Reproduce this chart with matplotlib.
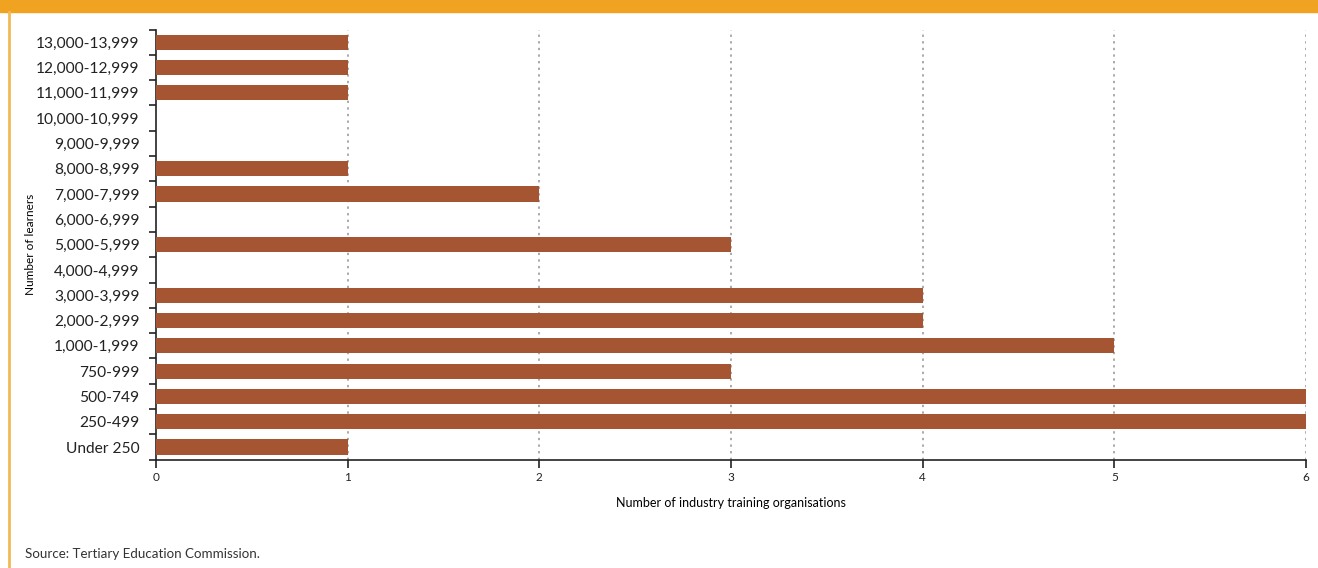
import matplotlib.pyplot as plt
from matplotlib.ticker import FixedLocator

# Learner bands and number of ITOs in each band
bands = ["Under 250", "250-499", "500-749", "750-999", "1,000-1,999", "2,000-2,999",
         "3,000-3,999", "4,000-4,999", "5,000-5,999", "6,000-6,999", "7,000-7,999",
         "8,000-8,999", "9,000-9,999", "10,000-10,999", "11,000-11,999",
         "12,000-12,999", "13,000-13,999"]
itos = [1, 6, 6, 3, 5, 4, 4, 0, 3, 0, 2, 1, 0, 0, 1, 1, 1]
x_ticks = [0, 1, 2, 3, 4, 5, 6]

plt.rcParams["font.family"] = ["Lato", "DejaVu Sans"]

fig = plt.figure(figsize=(13.18, 5.68), dpi=100)
ax = fig.add_axes([0.1184, 0.1907, 0.8725, 0.7573])

ypos = list(range(len(bands)))
ax.barh(ypos, itos, height=0.6, color="#A65533", zorder=3)

ax.set_xlim(0, 6)
ax.set_ylim(-0.5, len(bands) - 0.5)
ax.set_xticks(x_ticks)
ax.set_xticklabels([str(t) for t in x_ticks], fontsize=8.5, color="#222222")
ax.set_yticks(ypos)
ax.set_yticklabels(bands, fontsize=11.2, color="#222222")
ax.yaxis.set_minor_locator(FixedLocator([i - 0.5 for i in range(len(bands) + 1)]))
ax.tick_params(axis="y", which="major", length=0, pad=12)
ax.tick_params(axis="y", which="minor", length=5, width=1.2, color="#222222")
ax.tick_params(axis="x", length=6, width=1.2, color="#222222", pad=3)

for s in ["top", "right"]:
    ax.spines[s].set_visible(False)
ax.spines["left"].set_linewidth(1.2)
ax.spines["bottom"].set_linewidth(1.2)
ax.spines["left"].set_color("#222222")
ax.spines["bottom"].set_color("#222222")

for t in x_ticks[1:]:
    ax.axvline(t, color="#aaaaaa", linestyle=(0, (1.2, 2.2)), linewidth=1.4, zorder=1)

ax.set_xlabel("Number of industry training organisations", fontsize=9, labelpad=10)
fig.text(0.023, 0.569, "Number of learners", rotation=90, fontsize=8.5,
         ha="center", va="center")

fig.text(0.019, 0.017, "Source: Tertiary Education Commission.", fontsize=9.6,
         color="#333333")

# orange header band and left rule
fig.patches.append(plt.Rectangle((0, 0.979), 1, 0.021, transform=fig.transFigure,
                                 color="#F0A320", zorder=0))
fig.add_artist(plt.Line2D([0.0065, 0.0065], [0, 0.979], transform=fig.transFigure,
                          color="#F2BA55", linewidth=2))

fig.savefig("out.png", dpi=100)
